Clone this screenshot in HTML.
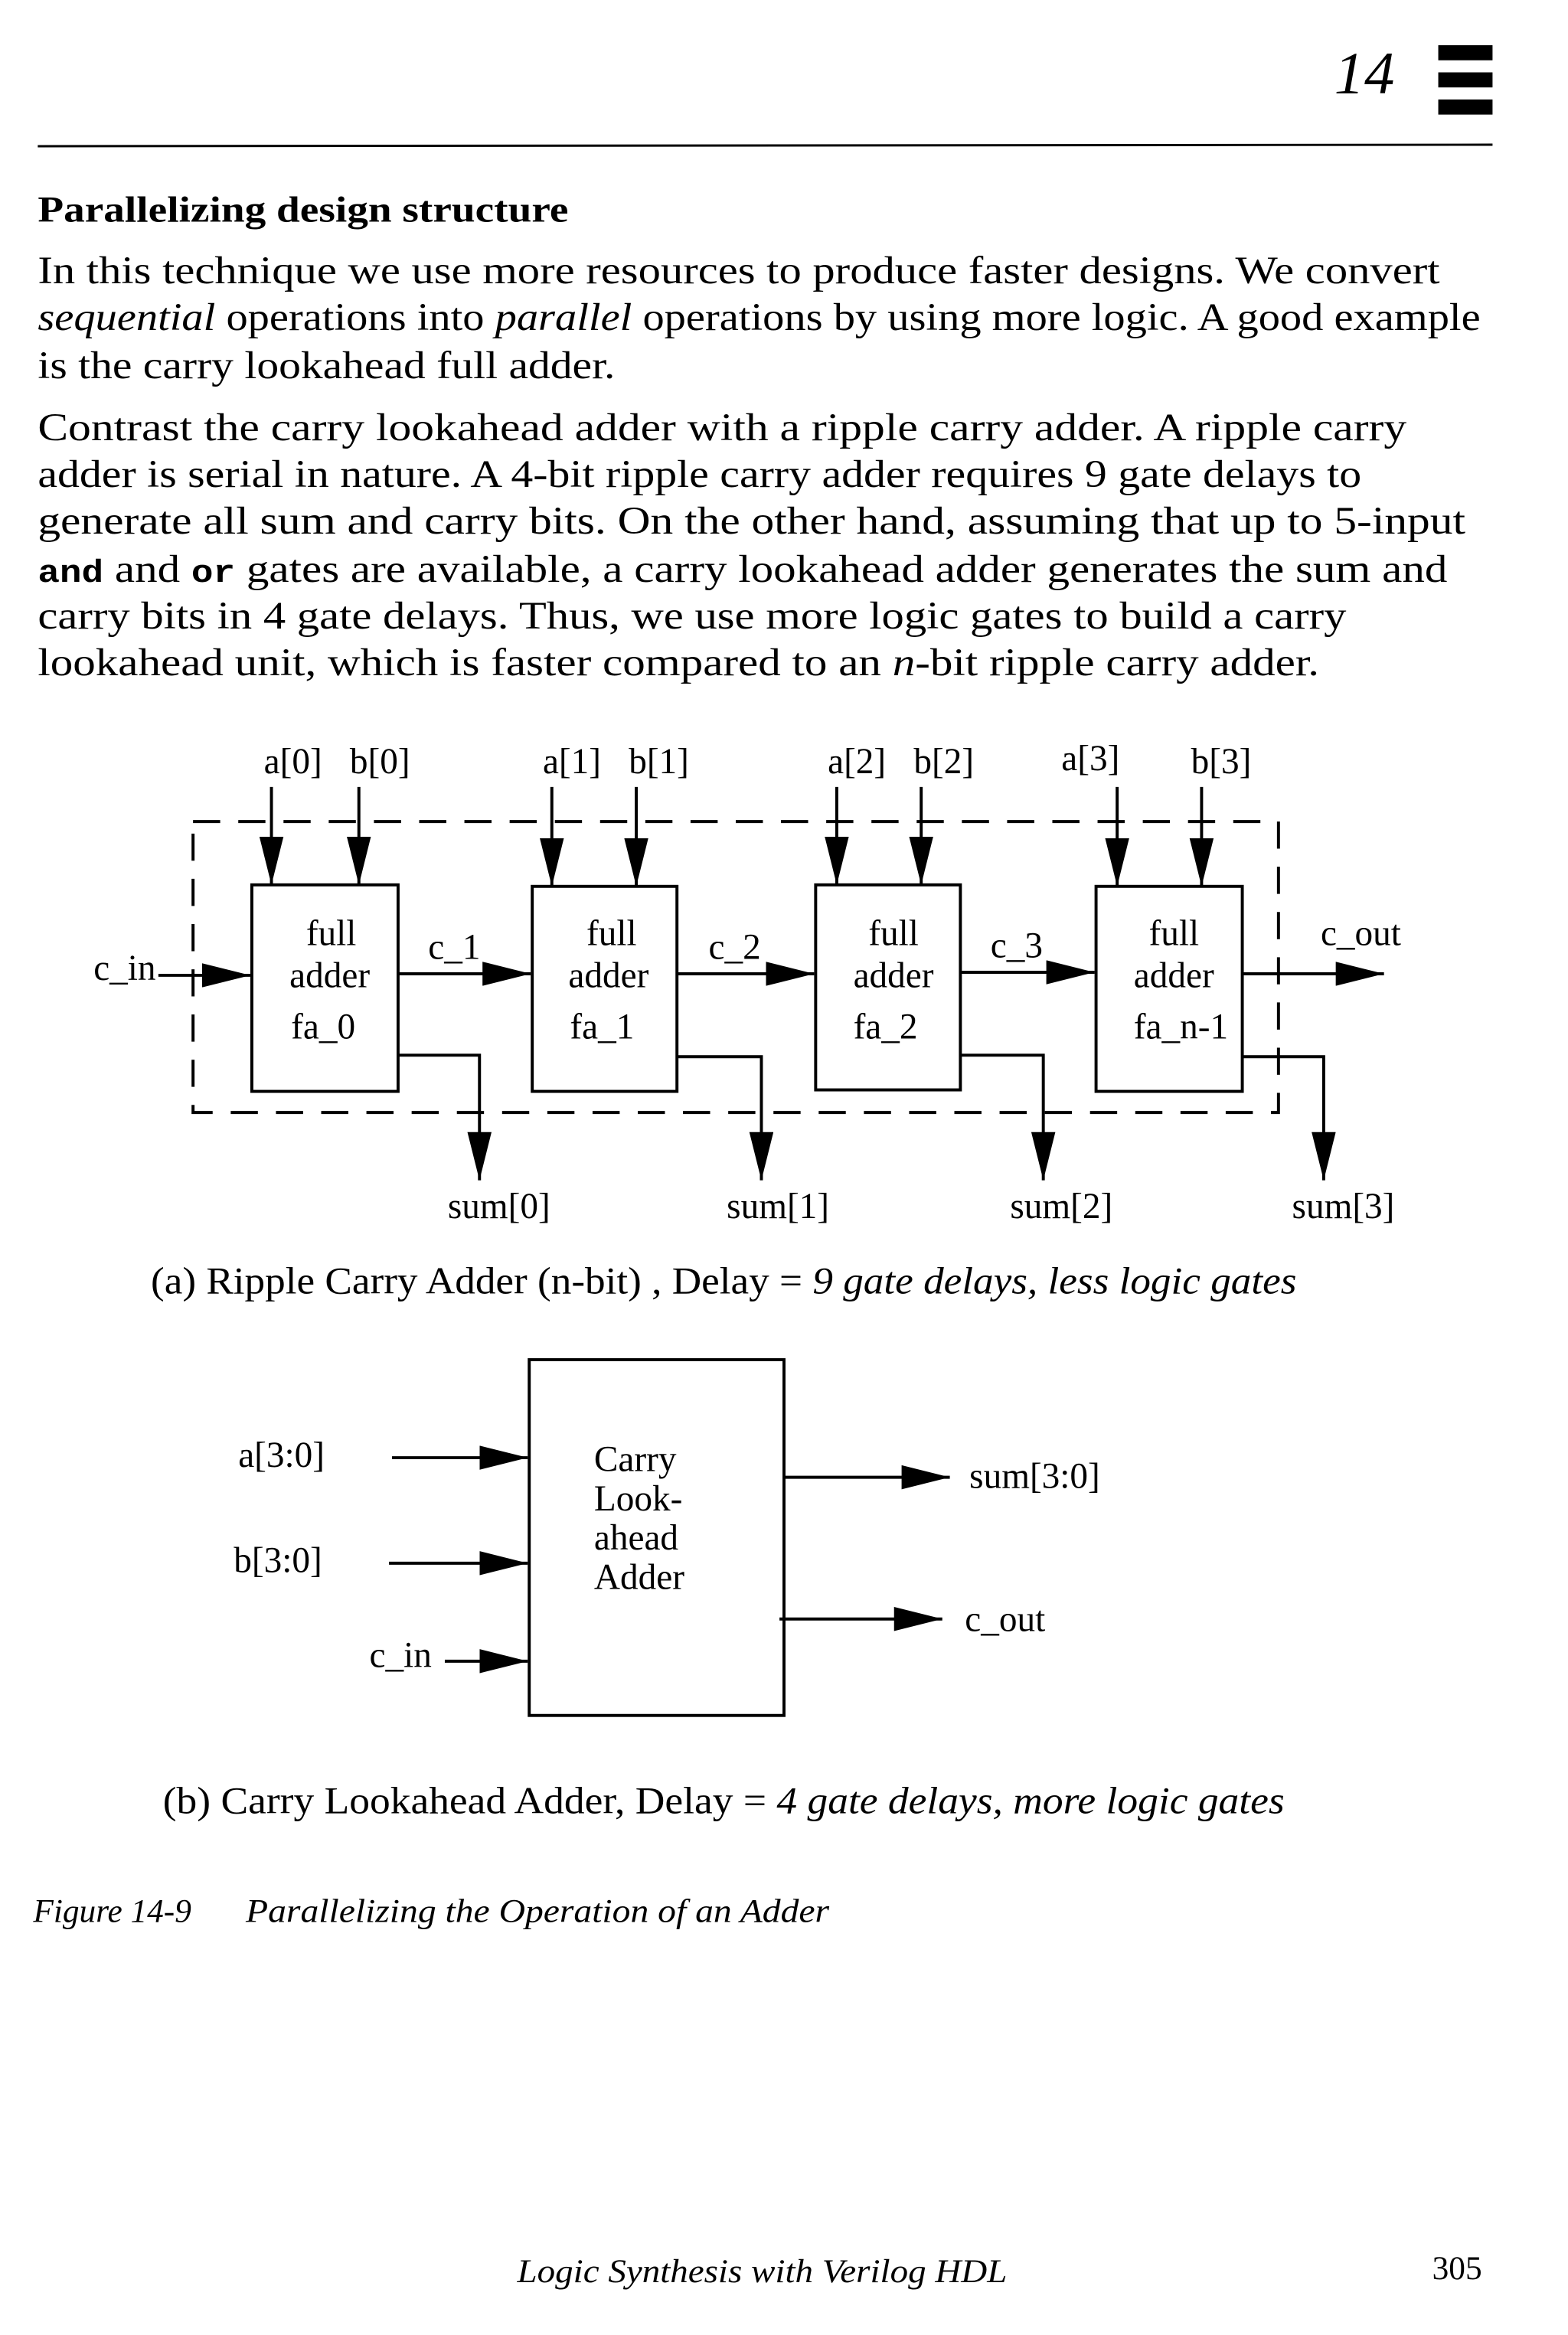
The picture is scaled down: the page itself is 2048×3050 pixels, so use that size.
<!DOCTYPE html>
<html><head><meta charset="utf-8"><style>
html,body{margin:0;padding:0;background:#fff;}
svg{display:block;}
text{font-family:"Liberation Serif",serif;fill:#000;}
</style></head><body>
<svg width="2048" height="3050" viewBox="0 0 1040 1549" xmlns="http://www.w3.org/2000/svg">
<defs>
<marker id="ah" viewBox="0 0 32 16" refX="32" refY="8" markerWidth="32" markerHeight="16" markerUnits="userSpaceOnUse" orient="auto">
<path d="M0,0 L32,8 L0,16 Z" fill="#000"/>
</marker>
</defs>
<text x="885" y="62" font-size="40" font-style="italic">14</text>
<rect x="954" y="30" width="36" height="10" fill="#000"/>
<rect x="954" y="48" width="36" height="10" fill="#000"/>
<rect x="954" y="66" width="36" height="10" fill="#000"/>
<line x1="25" y1="97" x2="990" y2="96" stroke="#000" stroke-width="1.5"/>
<text x="25" y="147" font-size="24" font-weight="bold" textLength="352" lengthAdjust="spacingAndGlyphs">Parallelizing design structure</text>
<g font-size="26">
<text x="25" y="188" textLength="930" lengthAdjust="spacingAndGlyphs">In this technique we use more resources to produce faster designs. We convert</text>
<text x="25" y="219" textLength="957" lengthAdjust="spacingAndGlyphs"><tspan font-style="italic">sequential</tspan> operations into <tspan font-style="italic">parallel</tspan> operations by using more logic. A good example</text>
<text x="25" y="251" textLength="383" lengthAdjust="spacingAndGlyphs">is the carry lookahead full adder.</text>
<text x="25" y="292" textLength="908" lengthAdjust="spacingAndGlyphs">Contrast the carry lookahead adder with a ripple carry adder. A ripple carry</text>
<text x="25" y="323" textLength="878" lengthAdjust="spacingAndGlyphs">adder is serial in nature. A 4-bit ripple carry adder requires 9 gate delays to</text>
<text x="25" y="354" textLength="947" lengthAdjust="spacingAndGlyphs">generate all sum and carry bits. On the other hand, assuming that up to 5-input</text>
<text x="25" y="386" textLength="935" lengthAdjust="spacingAndGlyphs"><tspan font-family="Liberation Mono" font-weight="bold" font-size="21">and</tspan> and <tspan font-family="Liberation Mono" font-weight="bold" font-size="21">or</tspan> gates are available, a carry lookahead adder generates the sum and</text>
<text x="25" y="417" textLength="868" lengthAdjust="spacingAndGlyphs">carry bits in 4 gate delays. Thus, we use more logic gates to build a carry</text>
<text x="25" y="448" textLength="850" lengthAdjust="spacingAndGlyphs">lookahead unit, which is faster compared to an <tspan font-style="italic">n</tspan>-bit ripple carry adder.</text>
</g>
<g font-size="24">
<text x="175" y="513">a[0]</text><text x="232" y="513">b[0]</text>
<text x="360" y="513">a[1]</text><text x="417" y="513">b[1]</text>
<text x="549" y="513">a[2]</text><text x="606" y="513">b[2]</text>
<text x="704" y="511">a[3]</text><text x="790" y="513">b[3]</text>
</g>
<rect x="128" y="545" width="720" height="193" fill="none" stroke="#000" stroke-width="2" stroke-dasharray="18,12"/>
<g fill="#fff" stroke="#000" stroke-width="2">
<rect x="167" y="587" width="97" height="137"/>
<rect x="353" y="588" width="96" height="136"/>
<rect x="541" y="587" width="96" height="136"/>
<rect x="727" y="588" width="97" height="136"/>
</g>
<g stroke="#000" stroke-width="2" marker-end="url(#ah)" fill="none">
<line x1="180" y1="522" x2="180" y2="587"/><line x1="238" y1="522" x2="238" y2="587"/>
<line x1="366" y1="522" x2="366" y2="588"/><line x1="422" y1="522" x2="422" y2="588"/>
<line x1="555" y1="522" x2="555" y2="587"/><line x1="611" y1="522" x2="611" y2="587"/>
<line x1="741" y1="522" x2="741" y2="588"/><line x1="797" y1="522" x2="797" y2="588"/>
<line x1="105" y1="647" x2="166" y2="647"/>
<line x1="264" y1="646" x2="352" y2="646"/>
<line x1="449" y1="646" x2="540" y2="646"/>
<line x1="637" y1="645" x2="726" y2="645"/>
<line x1="824" y1="646" x2="918" y2="646"/>
<polyline points="264,700 318,700 318,783"/>
<polyline points="449,701 505,701 505,783"/>
<polyline points="637,700 692,700 692,783"/>
<polyline points="824,701 878,701 878,783"/>
</g>
<g font-size="24">
<text x="62" y="650">c_in</text>
<text x="203" y="627">full</text><text x="192" y="655">adder</text><text x="193" y="689">fa_0</text>
<text x="284" y="636">c_1</text>
<text x="389" y="627">full</text><text x="377" y="655">adder</text><text x="378" y="689">fa_1</text>
<text x="470" y="636">c_2</text>
<text x="576" y="627">full</text><text x="566" y="655">adder</text><text x="566" y="689">fa_2</text>
<text x="657" y="635">c_3</text>
<text x="762" y="627">full</text><text x="752" y="655">adder</text><text x="752" y="689">fa_n-1</text>
<text x="876" y="627">c_out</text>
<text x="297" y="808">sum[0]</text><text x="482" y="808">sum[1]</text>
<text x="670" y="808">sum[2]</text><text x="857" y="808">sum[3]</text>
</g>
<text x="100" y="858" font-size="25" textLength="760" lengthAdjust="spacingAndGlyphs">(a) Ripple Carry Adder (n-bit) , Delay = <tspan font-style="italic">9 gate delays, less logic gates</tspan></text>
<rect x="351" y="902" width="169" height="236" fill="none" stroke="#000" stroke-width="2"/>
<g stroke="#000" stroke-width="2" marker-end="url(#ah)" fill="none">
<line x1="260" y1="967" x2="350" y2="967"/>
<line x1="258" y1="1037" x2="350" y2="1037"/>
<line x1="295" y1="1102" x2="350" y2="1102"/>
<line x1="520" y1="980" x2="630" y2="980"/>
<line x1="517" y1="1074" x2="625" y2="1074"/>
</g>
<g font-size="24">
<text x="158" y="973">a[3:0]</text>
<text x="155" y="1043">b[3:0]</text>
<text x="245" y="1106">c_in</text>
<text x="394" y="976">Carry</text><text x="394" y="1002">Look-</text>
<text x="394" y="1028">ahead</text><text x="394" y="1054">Adder</text>
<text x="643" y="987">sum[3:0]</text>
<text x="640" y="1082">c_out</text>
</g>
<text x="108" y="1203" font-size="25" textLength="744" lengthAdjust="spacingAndGlyphs">(b) Carry Lookahead Adder, Delay = <tspan font-style="italic">4 gate delays, more logic gates</tspan></text>
<text x="22" y="1275" font-size="22" font-style="italic">Figure 14-9</text>
<text x="163" y="1275" font-size="22" font-style="italic" textLength="387" lengthAdjust="spacingAndGlyphs">Parallelizing the Operation of an Adder</text>
<text x="343" y="1514" font-size="22" font-style="italic" textLength="325" lengthAdjust="spacingAndGlyphs">Logic Synthesis with Verilog HDL</text>
<text x="950" y="1512" font-size="22">305</text>
</svg>
</body></html>
